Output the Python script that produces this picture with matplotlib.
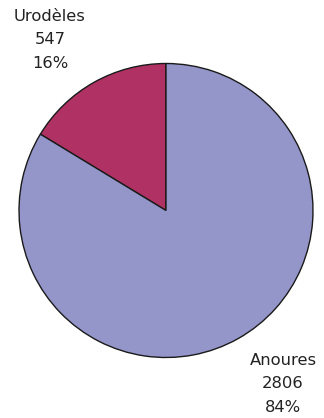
import matplotlib.pyplot as plt

labels = ['Urodèles', 'Anoures']
counts = [547, 2806]
colors = ['#B03163', '#9496CA']

fig = plt.figure(figsize=(3.24, 4.18), dpi=100)
W, H = 324, 418
cx, cy, r = 166, 210.5, 147
ax = fig.add_axes([(cx - r) / W, (H - cy - r) / H, 2 * r / W, 2 * r / H])

ax.pie(counts, colors=colors, startangle=90, counterclock=True,
       wedgeprops=dict(edgecolor='#1a1a1a', linewidth=1.0))
ax.set_xlim(-1, 1)
ax.set_ylim(-1, 1)
ax.set_aspect('equal')

total = sum(counts)
texts = [f'{lab}\n{n}\n{round(100 * n / total)}%' for lab, n in zip(labels, counts)]

# label positions in pixels (from top-left)
pos = [(50, 40), (283, 384)]
for t, (px, py) in zip(texts, pos):
    fig.text(px / W, 1 - py / H, t, ha='center', va='center',
             fontsize=11.8, linespacing=1.68, color='#222222',
             family='DejaVu Sans')

fig.savefig('out.png', dpi=100)
